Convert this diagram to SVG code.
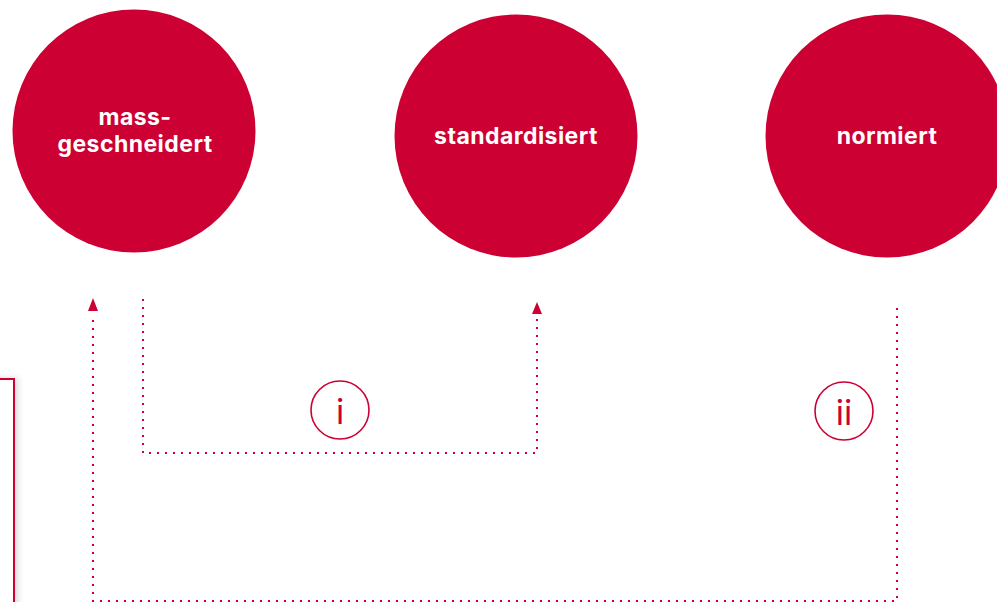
<svg xmlns="http://www.w3.org/2000/svg" width="997" height="602" viewBox="0 0 997 602">
<defs>
<style>
.node{fill:#CC0033}
.lbl{font-family:Inter,"Liberation Sans",sans-serif;font-weight:700;font-size:23px;letter-spacing:0.45px;fill:#fff;text-anchor:middle}
.conn{fill:none;stroke:#CC0033;stroke-width:2;stroke-dasharray:2 6}
.badge{fill:#fff;stroke:#CC0033;stroke-width:1.6}
.blbl{font-family:Inter,"Liberation Sans",sans-serif;font-weight:400;font-size:34px;fill:#CC0033;text-anchor:middle}
</style>
<filter id="sh" x="-50%" y="-10%" width="200%" height="120%">
<feDropShadow dx="3" dy="0" stdDeviation="3" flood-color="#000" flood-opacity="0.15"/>
</filter>
</defs>
<rect width="997" height="602" fill="#fff"/>
<g id="box">
<rect x="-100" y="379" width="114" height="260" fill="#fff" stroke="#CC0033" stroke-width="2" filter="url(#sh)"/>
</g>
<g id="connectors">
<path class="conn" d="M143 299 V453 H537 V316"/>
<path d="M537 302 L542 314 L532 314 Z" fill="#CC0033"/>
<path class="conn" d="M897 308 V601 H93 V314"/>
<path d="M93 298 L98 311 L88 311 Z" fill="#CC0033"/>
</g>
<g id="n1">
<circle class="node" cx="134" cy="131" r="121.5"/>
<text class="lbl" x="135" y="125">mass-</text>
<text class="lbl" x="135" y="152">geschneidert</text>
</g>
<g id="n2">
<circle class="node" cx="516" cy="136" r="121.5"/>
<text class="lbl" x="516" y="144">standardisiert</text>
</g>
<g id="n3">
<circle class="node" cx="887" cy="136" r="121.5"/>
<text class="lbl" x="887" y="144">normiert</text>
</g>
<g id="b1">
<circle class="badge" cx="340" cy="410" r="29"/>
<text class="blbl" x="340" y="424">i</text>
</g>
<g id="b2">
<circle class="badge" cx="844" cy="411" r="29"/>
<text class="blbl" x="844" y="425">ii</text>
</g>
</svg>
